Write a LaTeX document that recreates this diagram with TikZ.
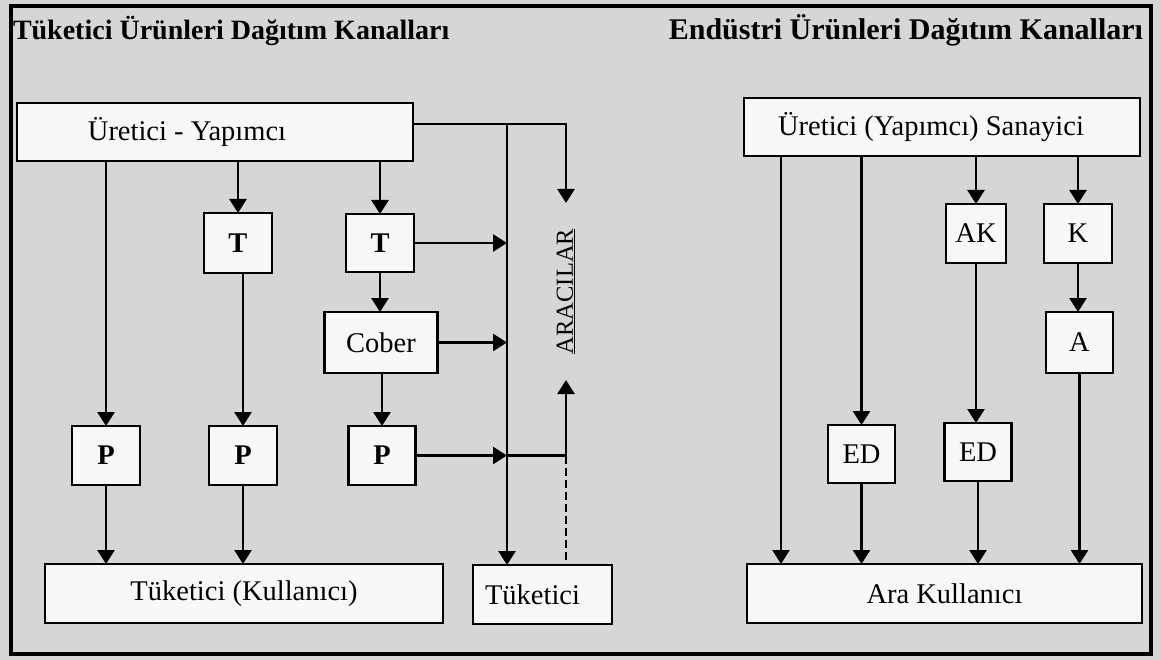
\documentclass[tikz,border=0pt]{standalone}
\usepackage{fontspec}
\setmainfont{Liberation Serif}
\usetikzlibrary{arrows.meta}
\definecolor{paper}{RGB}{214,214,214}
\definecolor{boxfill}{RGB}{248,248,248}
\begin{document}
\begin{tikzpicture}[x=1pt,y=-1pt,
  every node/.style={inner sep=0pt,outer sep=0pt},
  chanbox/.style={draw,line width=2.8pt,fill=boxfill,
    font=\fontsize{28.5}{32}\selectfont,minimum height=59pt},
  letterbox/.style={chanbox,minimum width=67pt},
  boldletter/.style={letterbox,font=\fontsize{28.5}{32}\selectfont\bfseries},
  flow/.style={line width=2.7pt,-{Triangle[length=14pt,width=17pt]}},
  plainline/.style={line width=2.7pt},
  heading/.style={font=\fontsize{28}{32}\selectfont\bfseries}
]
% page and outer frame
\fill[paper] (0,0) rectangle (1161,660);
\useasboundingbox (0,0) rectangle (1161,660);
\draw[line width=4.5pt] (11,6) rectangle (1151,654);

% headings
\node[heading,anchor=base west] (lt) at (13,40) {Tüketici Ürünleri Dağıtım Kanalları};
\node[heading,font=\fontsize{30}{34}\selectfont\bfseries,anchor=base east] (rt) at (1143,40) {Endüstri Ürünleri Dağıtım Kanalları};

% consumer goods channels
\node[chanbox,minimum width=396pt,minimum height=58pt] (ue) at (215,132) {Üretici - Yapımcı\hspace*{56pt}};
\node[boldletter,minimum width=68pt,minimum height=60pt] (t1) at (238,243) {T};
\node[boldletter,minimum width=68pt,minimum height=58pt] (t2) at (380,243) {T};
\node[chanbox,minimum width=113pt,minimum height=61pt] (cober) at (381,342.5) {Cober};
\node[boldletter,minimum width=68pt] (p1) at (106,455.5) {P};
\node[boldletter,minimum width=68pt] (p2) at (243,455.5) {P};
\node[boldletter] (p3) at (382,455.5) {P};
\node[chanbox,minimum width=398pt] (tk) at (244,593.5) {Tüketici (Kullanıcı)};
\node[chanbox,minimum width=139pt] (tu) at (542.5,594.5) {Tüketici\hspace*{20pt}};
\node[rotate=90,minimum width=177pt,font=\fontsize{24.5}{28}\selectfont] (aracilar) at (566,291.5) {\underline{ARACILAR}};
\coordinate (bus) at (507,124);

% industrial goods channels
\node[chanbox,minimum width=396pt,minimum height=58pt] (us) at (942,127) {Üretici (Yapımcı) Sanayici\hspace*{22pt}};
\node[letterbox,minimum width=60pt] (ak) at (976,233.5) {AK};
\node[letterbox,minimum width=68pt] (k) at (1078,233.5) {K};
\node[letterbox,minimum height=61pt] (a) at (1079.5,342.5) {A};
\node[letterbox,minimum height=58pt] (ed1) at (861.5,454) {ED};
\node[letterbox,minimum height=58pt] (ed2) at (978,452) {ED};
\node[chanbox,minimum width=395pt] (ara) at (944.5,593.5) {Ara Kullanıcı};
\coordinate (direct) at (781,127);

% consumer goods connectors
\draw[flow] (p1.north |- ue.south) -- (p1.north);
\draw[flow] (t1.north |- ue.south) -- (t1.north);
\draw[flow] (t2.north |- ue.south) -- (t2.north);
\draw[flow] (p2.north |- t1.south) -- (p2.north);
\draw[flow] (t2.south) -- (t2.south |- cober.north);
\draw[flow] (p3.north |- cober.south) -- (p3.north);
\draw[flow] (p1.south) -- (p1.south |- tk.north);
\draw[flow] (p2.south) -- (p2.south |- tk.north);
\draw[flow] (ue.east |- bus) -| (aracilar.east);
\draw[flow] (bus) -- (bus |- tu.north);
\draw[flow] (t2.east) -- (t2.east -| bus);
\draw[flow] (cober.east) -- (cober.east -| bus);
\draw[flow] (p3.east) -- (p3.east -| bus);
\draw[flow] (p3.east -| bus) -| (aracilar.west);
\draw[plainline,dash pattern=on 8pt off 4pt] (p3.east -| aracilar.west) -- (aracilar.west |- tu.north);

% industrial goods connectors
\draw[flow] (direct |- us.south) -- (direct |- ara.north);
\draw[flow] (ed1.north |- us.south) -- (ed1.north);
\draw[flow] (ak.north |- us.south) -- (ak.north);
\draw[flow] (k.north |- us.south) -- (k.north);
\draw[flow] (k.south) -- (k.south |- a.north);
\draw[flow] (ak.south) -- (ak.south |- ed2.north);
\draw[flow] (a.south) -- (a.south |- ara.north);
\draw[flow] (ed1.south) -- (ed1.south |- ara.north);
\draw[flow] (ed2.south) -- (ed2.south |- ara.north);
\end{tikzpicture}
\end{document}
